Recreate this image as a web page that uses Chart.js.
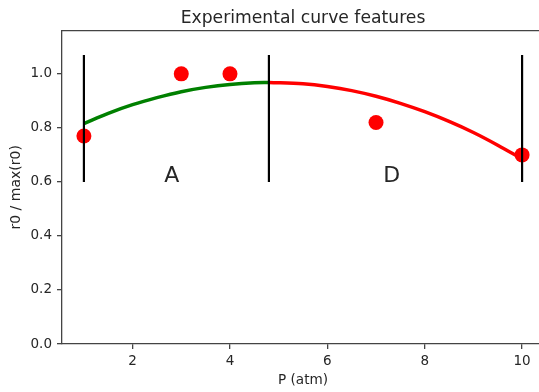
<!DOCTYPE html>
<html>
<head>
<meta charset="utf-8">
<script src="https://cdn.jsdelivr.net/npm/chart.js@4"></script>
<style>
    html, body { margin: 0; padding: 0; background: #fff; overflow: hidden; }
    #wrap { width: 604px; height: 392px; }
</style>
</head>
<body>
<div id="wrap"><canvas id="chart" width="604" height="392"></canvas></div>
<script>
// Punti misurati
const pressure = [1, 3, 4, 7, 10];
const ratio = [0.77, 1.0, 1.0, 0.82, 0.70];

// Curva di fit: tratto crescente (verde) e decrescente (rosso)
const riseX = [1, 1.5, 2, 2.5, 3, 3.5, 4, 4.5, 4.8];
const riseY = [0.816, 0.854, 0.886, 0.912, 0.934, 0.950, 0.961, 0.967, 0.968];
const fallX = [4.8, 5.5, 6, 6.5, 7, 7.5, 8, 8.5, 9, 9.5, 10];
const fallY = [0.968, 0.963, 0.953, 0.938, 0.917, 0.891, 0.860, 0.824, 0.783, 0.736, 0.685];

// Confini delle regioni
const boundX = [1, 4.8, 10];
const boundLow = 0.6;
const boundHigh = 1.07;

const regionNames = ['A', 'D'];
const regionX = [2.65, 7.15];
const regionY = [0.6, 0.6];

const xTicks = [2, 4, 6, 8, 10];
const yTicks = [0, 0.2, 0.4, 0.6, 0.8, 1.0];

const FONT = '"DejaVu Sans", sans-serif';
const INK = '#262626';
const SPINE = '#444';

const pts = (xs, ys) => xs.map((x, i) => ({ x: x, y: ys[i] }));
const boundPts = boundX.flatMap(x => [{ x: x, y: boundLow }, { x: x, y: boundHigh }, { x: x, y: null }]);

// Spine superiore e lettere delle regioni
const extras = {
    id: 'extras',
    afterDatasetsDraw(chart) {
        const { ctx, chartArea, scales } = chart;
        ctx.save();
        ctx.strokeStyle = SPINE;
        ctx.lineWidth = 1.3;
        ctx.beginPath();
        ctx.moveTo(chartArea.left, chartArea.top);
        ctx.lineTo(chartArea.right, chartArea.top);
        ctx.stroke();

        ctx.fillStyle = INK;
        ctx.font = '22px ' + FONT;
        ctx.textAlign = 'left';
        ctx.textBaseline = 'alphabetic';
        regionNames.forEach((t, i) => {
            ctx.fillText(t, scales.x.getPixelForValue(regionX[i]), scales.y.getPixelForValue(regionY[i]));
        });
        ctx.restore();
    }
};

const axisCommon = {
    grid: { drawOnChartArea: false, drawTicks: true, tickLength: 5, color: SPINE, lineWidth: 1.3 },
    border: { display: true, color: SPINE, width: 1.3 }
};

new Chart(document.getElementById('chart').getContext('2d'), {
    type: 'scatter',
    data: {
        datasets: [
            {
                data: boundPts,
                showLine: true,
                spanGaps: false,
                borderColor: '#000',
                borderWidth: 2.2,
                pointRadius: 0,
                order: 0
            },
            {
                data: pts(riseX, riseY),
                showLine: true,
                borderColor: '#008000',
                borderWidth: 3.5,
                pointRadius: 0,
                cubicInterpolationMode: 'monotone',
                order: 1
            },
            {
                data: pts(fallX, fallY),
                showLine: true,
                borderColor: '#ff0000',
                borderWidth: 3.5,
                pointRadius: 0,
                cubicInterpolationMode: 'monotone',
                order: 1
            },
            {
                data: pts(pressure, ratio),
                showLine: false,
                backgroundColor: '#ff0000',
                pointRadius: 7.5,
                pointBorderWidth: 0,
                order: 2
            }
        ]
    },
    options: {
        responsive: false,
        animation: false,
        layout: { padding: { left: 0, top: 0, right: 60, bottom: 0 } },
        plugins: {
            legend: { display: false },
            tooltip: { enabled: false },
            title: {
                display: true,
                fullSize: false,
                text: 'Experimental curve features',
                color: INK,
                font: { family: FONT, size: 17.2, weight: 'normal' },
                padding: { top: 8, bottom: 2 }
            }
        },
        scales: {
            x: {
                ...axisCommon,
                type: 'linear',
                min: 0.55,
                max: 10.45,
                afterBuildTicks: s => { s.ticks = xTicks.map(v => ({ value: v })); },
                afterFit: s => { s.height = 48; },
                ticks: { color: INK, font: { family: FONT, size: 13.5 }, padding: 4, callback: v => String(v) },
                title: {
                    display: true,
                    text: 'P (atm)',
                    color: INK,
                    font: { family: FONT, size: 13.6 },
                    padding: { top: 0, bottom: 3 }
                }
            },
            y: {
                ...axisCommon,
                type: 'linear',
                min: 0,
                max: 1.16,
                afterBuildTicks: s => { s.ticks = yTicks.map(v => ({ value: v })); },
                afterFit: s => { s.width = 62; },
                ticks: { color: INK, font: { family: FONT, size: 13.5 }, padding: 5, callback: v => v.toFixed(1) },
                title: {
                    display: true,
                    text: 'r0 / max(r0)',
                    color: INK,
                    font: { family: FONT, size: 14 },
                    padding: { top: 8, bottom: 0 }
                }
            }
        }
    },
    plugins: [extras]
});
</script>
</body>
</html>
